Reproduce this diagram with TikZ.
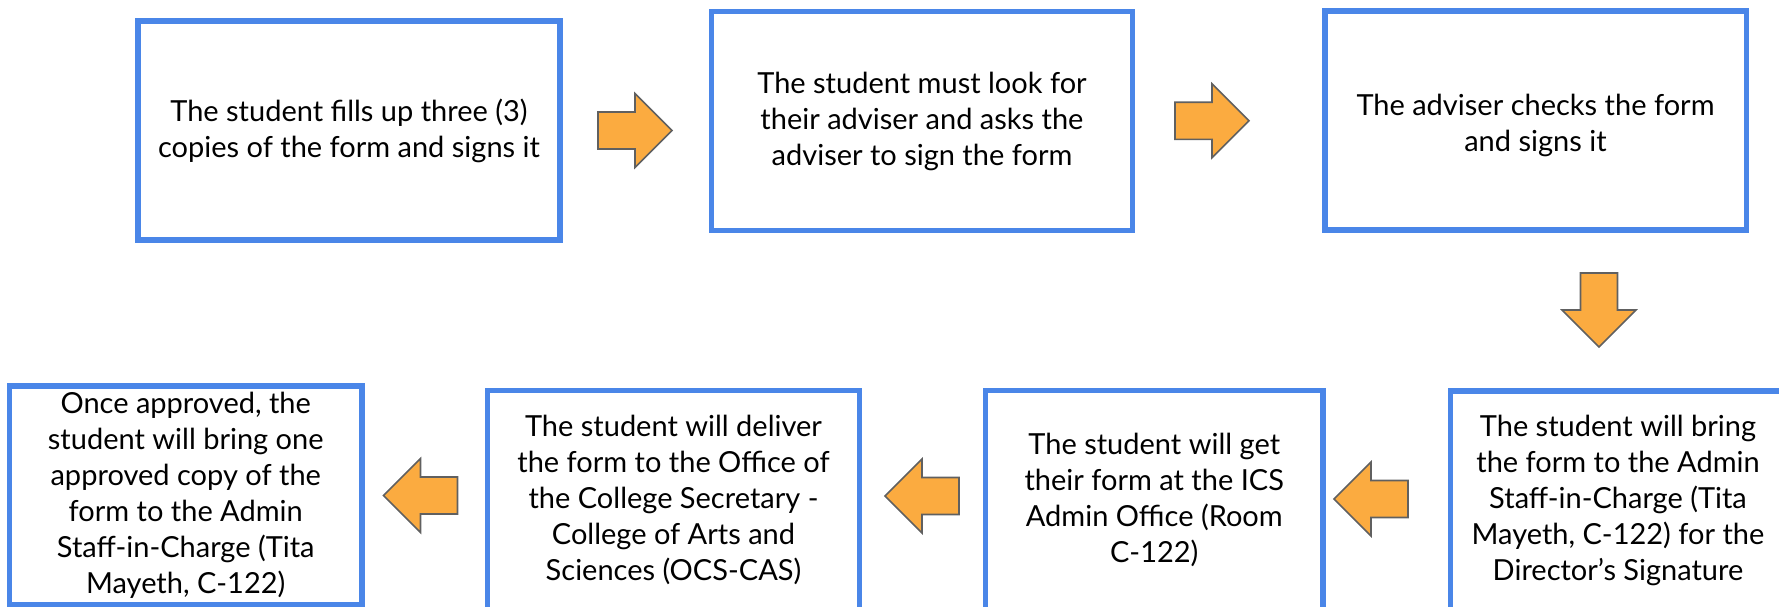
\documentclass[tikz,border=0pt]{standalone}
\usepackage{fontspec}
\setmainfont{Lato}
\definecolor{boxblue}{HTML}{4A86E8}
\definecolor{arrowfill}{HTML}{FBAB40}
\definecolor{arrowline}{HTML}{606060}
\tikzset{
  stepbox/.style={draw=boxblue, line width=5.5pt, fill=white, align=center,
    minimum height=219pt, inner sep=0pt, font=\fontsize{29}{36}\selectfont},
  blockarrow/.style={fill=arrowfill, draw=arrowline, line width=1.6pt, line join=miter}
}
\newcommand\blockarr[3]{% name, center, angle
  \draw[blockarrow, shift={#2}, rotate=#3] (-37,-18.5) -- (0,-18.5) -- (0,-37) -- (37,0) -- (0,37) -- (0,18.5) -- (-37,18.5) -- cycle;
  \coordinate (#1) at #2;}
\begin{document}
\begin{tikzpicture}[x=1pt,y=-1pt]
\useasboundingbox (0,0) rectangle (1779,607);
\clip (0,0) rectangle (1779,607);
\node[stepbox, minimum width=422pt] (s1) at (349,130.5) {The student fills up three (3)\\copies of the form and signs it};
\node[stepbox, minimum width=421pt] (s2) at (922,121) {The student must look for\\their adviser and asks the\\adviser to sign the form};
\node[stepbox, minimum width=421.5pt] (s3) at (1535.5,120.7) {\rule{0pt}{30pt}The adviser checks the form\\and signs it};
\node[stepbox, minimum width=335pt] (s4) at (1618,500.5) {The student will bring\\the form to the Admin\\Staff-in-Charge (Tita\\Mayeth, C-122) for the\\Director’s Signature};
\node[stepbox, minimum width=337.5pt] (s5) at (1154.25,500) {The student will get\\their form at the ICS\\Admin Office (Room\\C-122)};
\node[stepbox, minimum width=372pt] (s6) at (673.5,500) {The student will deliver\\the form to the Office of\\the College Secretary -\\College of Arts and\\Sciences (OCS-CAS)};
\node[stepbox, minimum width=352.5pt, minimum height=218.5pt] (s7) at (185.75,495.25) {Once approved, the\\student will bring one\\approved copy of the\\form to the Admin\\Staff-in-Charge (Tita\\Mayeth, C-122)};
\blockarr{a1}{(635,130.5)}{0}
\blockarr{a2}{(1212,120.8)}{0}
\blockarr{a3}{(1599,310)}{-90}
\blockarr{a4}{(1371,499)}{180}
\blockarr{a5}{(922,496)}{180}
\blockarr{a6}{(420.5,495.5)}{180}
\end{tikzpicture}
\end{document}
